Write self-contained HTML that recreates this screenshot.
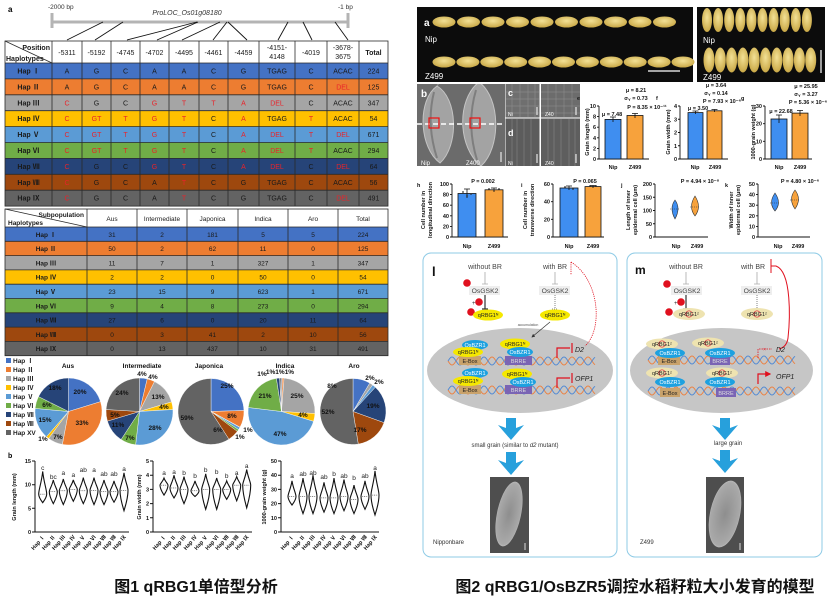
<!DOCTYPE html>
<html><head><meta charset="utf-8">
<style>
html,body{margin:0;padding:0;background:#fff;}
svg{display:block;font-family:"Liberation Sans","Noto Sans CJK SC",sans-serif;}
.t1 text{font-size:7px;text-anchor:middle;fill:#1a1a1a;}
.t1 .r{fill:#e8232a;}
.t1 .h{font-weight:bold;}
.t2 text{font-size:6.5px;text-anchor:middle;fill:#1a1a1a;}
.t2 .h{font-weight:bold;}
.pl text{font-size:6.5px;font-weight:bold;text-anchor:middle;fill:#111;}
.ax text{font-size:5.5px;font-weight:bold;fill:#111;}
.lt{font-size:6.5px;text-anchor:middle;fill:#222;}
.md text{font-family:"Liberation Sans",sans-serif;}
</style></head><body>
<svg width="833" height="596" viewBox="0 0 833 596" xmlns="http://www.w3.org/2000/svg">
<defs>
<radialGradient id="gr" cx="50%" cy="40%" r="60%"><stop offset="0" stop-color="#f3e196"/><stop offset="1" stop-color="#c9a846"/></radialGradient>
<radialGradient id="sem" cx="50%" cy="50%" r="55%"><stop offset="0" stop-color="#8e8e8e"/><stop offset="0.85" stop-color="#a9a9a9"/><stop offset="1" stop-color="#d0d0d0"/></radialGradient>
<clipPath id="cb"><rect x="417" y="84" width="88" height="82"/></clipPath>
<marker id="ah" markerWidth="5" markerHeight="5" refX="4" refY="2.5" orient="auto"><path d="M0,0 L5,2.5 L0,5Z" fill="#333"/></marker>
<marker id="ahr" markerWidth="5" markerHeight="5" refX="4" refY="2.5" orient="auto"><path d="M0,0 L5,2.5 L0,5Z" fill="#e0101e"/></marker>
</defs>

<!-- ===== FIGURE 1 ===== -->
<text x="8" y="12" font-size="8" font-weight="bold">a</text>
<text x="48" y="9" font-size="6.5" fill="#333">-2000 bp</text>
<text x="338" y="9" font-size="6.5" fill="#333">-1 bp</text>
<text x="187" y="15" font-size="7" font-style="italic" fill="#333" text-anchor="middle">ProLOC_Os01g08180</text>
<g stroke="#b4b4b4" stroke-width="3" fill="none">
<line x1="52" y1="22" x2="348" y2="22"/><line x1="52" y1="13" x2="52" y2="28"/><line x1="348" y1="13" x2="348" y2="28"/>
</g>
<g stroke="#111" stroke-width="0.9">
<line x1="103" y1="22" x2="67" y2="40"/><line x1="123" y1="22" x2="95" y2="40"/><line x1="197" y1="22" x2="127" y2="40"/>
<line x1="198" y1="22" x2="157" y2="40"/><line x1="220" y1="22" x2="182" y2="40"/><line x1="227" y1="22" x2="213" y2="40"/>
<line x1="228" y1="22" x2="247" y2="40"/><line x1="288" y1="22" x2="278" y2="40"/><line x1="303" y1="22" x2="312" y2="40"/>
<line x1="335" y1="22" x2="348" y2="40"/>
</g>

<!-- Table 1 -->
<g class="t1">
<rect x="5" y="41" width="383" height="22" fill="#fff"/>
<rect x="5" y="63" width="383" height="15.9" fill="#4472C4"/>
<rect x="5" y="78.9" width="383" height="15.9" fill="#ED7D31"/>
<rect x="5" y="94.8" width="383" height="15.9" fill="#A5A5A5"/>
<rect x="5" y="110.7" width="383" height="15.9" fill="#FFC000"/>
<rect x="5" y="126.6" width="383" height="15.9" fill="#5B9BD5"/>
<rect x="5" y="142.5" width="383" height="15.9" fill="#70AD47"/>
<rect x="5" y="158.4" width="383" height="15.9" fill="#264478"/>
<rect x="5" y="174.3" width="383" height="15.9" fill="#9E480E"/>
<rect x="5" y="190.2" width="383" height="15.9" fill="#636363"/>
<g stroke="#2a2a2a" stroke-width="0.8" fill="none">
<rect x="5" y="41" width="383" height="165.1"/>
<line x1="5" y1="63" x2="388" y2="63"/><line x1="5" y1="78.9" x2="388" y2="78.9"/><line x1="5" y1="94.8" x2="388" y2="94.8"/>
<line x1="5" y1="110.7" x2="388" y2="110.7"/><line x1="5" y1="126.6" x2="388" y2="126.6"/><line x1="5" y1="142.5" x2="388" y2="142.5"/>
<line x1="5" y1="158.4" x2="388" y2="158.4"/><line x1="5" y1="174.3" x2="388" y2="174.3"/><line x1="5" y1="190.2" x2="388" y2="190.2"/>
<line x1="52" y1="41" x2="52" y2="206"/><line x1="82" y1="41" x2="82" y2="206"/><line x1="111" y1="41" x2="111" y2="206"/>
<line x1="140" y1="41" x2="140" y2="206"/><line x1="169" y1="41" x2="169" y2="206"/><line x1="199" y1="41" x2="199" y2="206"/>
<line x1="228" y1="41" x2="228" y2="206"/><line x1="259" y1="41" x2="259" y2="206"/><line x1="295" y1="41" x2="295" y2="206"/>
<line x1="327" y1="41" x2="327" y2="206"/><line x1="359" y1="41" x2="359" y2="206"/>
<line x1="5" y1="41" x2="52" y2="63"/>
</g>
<text x="50" y="50" class="h" style="text-anchor:end">Position</text>
<text x="6" y="61" class="h" style="text-anchor:start">Haplotypes</text>
<text x="67" y="55">-5311</text><text x="96.5" y="55">-5192</text><text x="125.5" y="55">-4745</text><text x="154.5" y="55">-4702</text>
<text x="184" y="55">-4495</text><text x="213.5" y="55">-4461</text><text x="243.5" y="55">-4459</text>
<text x="277" y="50">-4151-</text><text x="277" y="59">4148</text><text x="311" y="55">-4019</text>
<text x="343" y="50">-3678-</text><text x="343" y="59">3675</text><text x="373.5" y="55" class="h">Total</text>

<g transform="translate(0,63)"><text x="28.5" y="10.5" class="h">Hap Ⅰ</text><text x="67" y="10.5">A</text><text x="96.5" y="10.5">G</text><text x="125.5" y="10.5">C</text><text x="154.5" y="10.5">A</text><text x="184" y="10.5">A</text><text x="213.5" y="10.5">C</text><text x="243.5" y="10.5">G</text><text x="277" y="10.5">TGAG</text><text x="311" y="10.5">C</text><text x="343" y="10.5">ACAC</text><text x="373.5" y="10.5">224</text></g>
<g transform="translate(0,78.9)"><text x="28.5" y="10.5" class="h">Hap Ⅱ</text><text x="67" y="10.5">A</text><text x="96.5" y="10.5">G</text><text x="125.5" y="10.5">C</text><text x="154.5" y="10.5">A</text><text x="184" y="10.5">A</text><text x="213.5" y="10.5">C</text><text x="243.5" y="10.5">G</text><text x="277" y="10.5">TGAG</text><text x="311" y="10.5">C</text><text x="343" y="10.5" class="r">DEL</text><text x="373.5" y="10.5">125</text></g>
<g transform="translate(0,94.8)"><text x="28.5" y="10.5" class="h">Hap Ⅲ</text><text x="67" y="10.5" class="r">C</text><text x="96.5" y="10.5">G</text><text x="125.5" y="10.5">C</text><text x="154.5" y="10.5" class="r">G</text><text x="184" y="10.5" class="r">T</text><text x="213.5" y="10.5" class="r">T</text><text x="243.5" y="10.5" class="r">A</text><text x="277" y="10.5" class="r">DEL</text><text x="311" y="10.5">C</text><text x="343" y="10.5">ACAC</text><text x="373.5" y="10.5">347</text></g>
<g transform="translate(0,110.7)"><text x="28.5" y="10.5" class="h">Hap Ⅳ</text><text x="67" y="10.5" class="r">C</text><text x="96.5" y="10.5" class="r">GT</text><text x="125.5" y="10.5" class="r">T</text><text x="154.5" y="10.5" class="r">G</text><text x="184" y="10.5" class="r">T</text><text x="213.5" y="10.5">C</text><text x="243.5" y="10.5" class="r">A</text><text x="277" y="10.5">TGAG</text><text x="311" y="10.5" class="r">T</text><text x="343" y="10.5">ACAC</text><text x="373.5" y="10.5">54</text></g>
<g transform="translate(0,126.6)"><text x="28.5" y="10.5" class="h">Hap Ⅴ</text><text x="67" y="10.5" class="r">C</text><text x="96.5" y="10.5" class="r">GT</text><text x="125.5" y="10.5" class="r">T</text><text x="154.5" y="10.5" class="r">G</text><text x="184" y="10.5" class="r">T</text><text x="213.5" y="10.5">C</text><text x="243.5" y="10.5" class="r">A</text><text x="277" y="10.5" class="r">DEL</text><text x="311" y="10.5" class="r">T</text><text x="343" y="10.5" class="r">DEL</text><text x="373.5" y="10.5">671</text></g>
<g transform="translate(0,142.5)"><text x="28.5" y="10.5" class="h">Hap Ⅵ</text><text x="67" y="10.5" class="r">C</text><text x="96.5" y="10.5" class="r">GT</text><text x="125.5" y="10.5" class="r">T</text><text x="154.5" y="10.5" class="r">G</text><text x="184" y="10.5" class="r">T</text><text x="213.5" y="10.5">C</text><text x="243.5" y="10.5" class="r">A</text><text x="277" y="10.5" class="r">DEL</text><text x="311" y="10.5" class="r">T</text><text x="343" y="10.5">ACAC</text><text x="373.5" y="10.5">294</text></g>
<g transform="translate(0,158.4)"><text x="28.5" y="10.5" class="h">Hap Ⅶ</text><text x="67" y="10.5" class="r">C</text><text x="96.5" y="10.5">G</text><text x="125.5" y="10.5">C</text><text x="154.5" y="10.5" class="r">G</text><text x="184" y="10.5" class="r">T</text><text x="213.5" y="10.5">C</text><text x="243.5" y="10.5" class="r">A</text><text x="277" y="10.5" class="r">DEL</text><text x="311" y="10.5">C</text><text x="343" y="10.5" class="r">DEL</text><text x="373.5" y="10.5">64</text></g>
<g transform="translate(0,174.3)"><text x="28.5" y="10.5" class="h">Hap Ⅷ</text><text x="67" y="10.5" class="r">C</text><text x="96.5" y="10.5">G</text><text x="125.5" y="10.5">C</text><text x="154.5" y="10.5">A</text><text x="184" y="10.5" class="r">T</text><text x="213.5" y="10.5">C</text><text x="243.5" y="10.5">G</text><text x="277" y="10.5">TGAG</text><text x="311" y="10.5">C</text><text x="343" y="10.5">ACAC</text><text x="373.5" y="10.5">56</text></g>
<g transform="translate(0,190.2)"><text x="28.5" y="10.5" class="h">Hap Ⅸ</text><text x="67" y="10.5" class="r">C</text><text x="96.5" y="10.5">G</text><text x="125.5" y="10.5">C</text><text x="154.5" y="10.5">A</text><text x="184" y="10.5" class="r">T</text><text x="213.5" y="10.5">C</text><text x="243.5" y="10.5">G</text><text x="277" y="10.5">TGAG</text><text x="311" y="10.5">C</text><text x="343" y="10.5" class="r">DEL</text><text x="373.5" y="10.5">491</text></g>
</g>

<!-- Table 2 -->
<g class="t2">
<rect x="5" y="209" width="383" height="18" fill="#fff"/>
<rect x="5" y="227" width="383" height="14.3" fill="#4472C4"/>
<rect x="5" y="241.3" width="383" height="14.3" fill="#ED7D31"/>
<rect x="5" y="255.6" width="383" height="14.3" fill="#A5A5A5"/>
<rect x="5" y="269.9" width="383" height="14.3" fill="#FFC000"/>
<rect x="5" y="284.2" width="383" height="14.3" fill="#5B9BD5"/>
<rect x="5" y="298.5" width="383" height="14.3" fill="#70AD47"/>
<rect x="5" y="312.8" width="383" height="14.3" fill="#264478"/>
<rect x="5" y="327.1" width="383" height="14.3" fill="#9E480E"/>
<rect x="5" y="341.4" width="383" height="14.3" fill="#636363"/>
<g stroke="#2a2a2a" stroke-width="0.8" fill="none">
<rect x="5" y="209" width="383" height="146.7"/>
<line x1="5" y1="227" x2="388" y2="227"/><line x1="5" y1="241.3" x2="388" y2="241.3"/><line x1="5" y1="255.6" x2="388" y2="255.6"/>
<line x1="5" y1="269.9" x2="388" y2="269.9"/><line x1="5" y1="284.2" x2="388" y2="284.2"/><line x1="5" y1="298.5" x2="388" y2="298.5"/>
<line x1="5" y1="312.8" x2="388" y2="312.8"/><line x1="5" y1="327.1" x2="388" y2="327.1"/><line x1="5" y1="341.4" x2="388" y2="341.4"/>
<line x1="87" y1="209" x2="87" y2="356"/><line x1="137" y1="209" x2="137" y2="356"/><line x1="187" y1="209" x2="187" y2="356"/>
<line x1="238" y1="209" x2="238" y2="356"/><line x1="288" y1="209" x2="288" y2="356"/><line x1="338" y1="209" x2="338" y2="356"/>
<line x1="5" y1="209" x2="87" y2="227"/>
</g>
<text x="84" y="217" class="h" style="text-anchor:end">Subpopulation</text>
<text x="8" y="225" class="h" style="text-anchor:start">Haplotypes</text>
<text x="112" y="221">Aus</text><text x="162" y="221">Intermediate</text><text x="212.5" y="221">Japonica</text><text x="263" y="221">Indica</text><text x="313" y="221">Aro</text><text x="363" y="221">Total</text>
<g transform="translate(0,227)"><text x="46" y="9.8" class="h">Hap Ⅰ</text><text x="112" y="9.8">31</text><text x="162" y="9.8">2</text><text x="212.5" y="9.8">181</text><text x="263" y="9.8">5</text><text x="313" y="9.8">5</text><text x="363" y="9.8">224</text></g>
<g transform="translate(0,241.3)"><text x="46" y="9.8" class="h">Hap Ⅱ</text><text x="112" y="9.8">50</text><text x="162" y="9.8">2</text><text x="212.5" y="9.8">62</text><text x="263" y="9.8">11</text><text x="313" y="9.8">0</text><text x="363" y="9.8">125</text></g>
<g transform="translate(0,255.6)"><text x="46" y="9.8" class="h">Hap Ⅲ</text><text x="112" y="9.8">11</text><text x="162" y="9.8">7</text><text x="212.5" y="9.8">1</text><text x="263" y="9.8">327</text><text x="313" y="9.8">1</text><text x="363" y="9.8">347</text></g>
<g transform="translate(0,269.9)"><text x="46" y="9.8" class="h">Hap Ⅳ</text><text x="112" y="9.8">2</text><text x="162" y="9.8">2</text><text x="212.5" y="9.8">0</text><text x="263" y="9.8">50</text><text x="313" y="9.8">0</text><text x="363" y="9.8">54</text></g>
<g transform="translate(0,284.2)"><text x="46" y="9.8" class="h">Hap Ⅴ</text><text x="112" y="9.8">23</text><text x="162" y="9.8">15</text><text x="212.5" y="9.8">9</text><text x="263" y="9.8">623</text><text x="313" y="9.8">1</text><text x="363" y="9.8">671</text></g>
<g transform="translate(0,298.5)"><text x="46" y="9.8" class="h">Hap Ⅵ</text><text x="112" y="9.8">9</text><text x="162" y="9.8">4</text><text x="212.5" y="9.8">8</text><text x="263" y="9.8">273</text><text x="313" y="9.8">0</text><text x="363" y="9.8">294</text></g>
<g transform="translate(0,312.8)"><text x="46" y="9.8" class="h">Hap Ⅶ</text><text x="112" y="9.8">27</text><text x="162" y="9.8">6</text><text x="212.5" y="9.8">0</text><text x="263" y="9.8">20</text><text x="313" y="9.8">11</text><text x="363" y="9.8">64</text></g>
<g transform="translate(0,327.1)"><text x="46" y="9.8" class="h">Hap Ⅷ</text><text x="112" y="9.8">0</text><text x="162" y="9.8">3</text><text x="212.5" y="9.8">41</text><text x="263" y="9.8">2</text><text x="313" y="9.8">10</text><text x="363" y="9.8">56</text></g>
<g transform="translate(0,341.4)"><text x="46" y="9.8" class="h">Hap Ⅸ</text><text x="112" y="9.8">0</text><text x="162" y="9.8">13</text><text x="212.5" y="9.8">437</text><text x="263" y="9.8">10</text><text x="313" y="9.8">31</text><text x="363" y="9.8">491</text></g>
</g>

<!-- Pie legend -->
<g font-size="6.5" font-weight="bold" fill="#222">
<rect x="6" y="358" width="5" height="5" fill="#4472C4"/><text x="13" y="363">Hap Ⅰ</text>
<rect x="6" y="367" width="5" height="5" fill="#ED7D31"/><text x="13" y="372">Hap Ⅱ</text>
<rect x="6" y="376" width="5" height="5" fill="#A5A5A5"/><text x="13" y="381">Hap Ⅲ</text>
<rect x="6" y="385" width="5" height="5" fill="#FFC000"/><text x="13" y="390">Hap Ⅳ</text>
<rect x="6" y="394" width="5" height="5" fill="#5B9BD5"/><text x="13" y="399">Hap Ⅴ</text>
<rect x="6" y="403" width="5" height="5" fill="#70AD47"/><text x="13" y="408">Hap Ⅵ</text>
<rect x="6" y="412" width="5" height="5" fill="#264478"/><text x="13" y="417">Hap Ⅶ</text>
<rect x="6" y="421" width="5" height="5" fill="#9E480E"/><text x="13" y="426">Hap Ⅷ</text>
<rect x="6" y="430" width="5" height="5" fill="#636363"/><text x="13" y="435">Hap XV</text>
</g>
<g id="pies"></g>
<g class="pl">
<text x="68" y="368" font-size="7">Aus</text><text x="142" y="368" font-size="7">Intermediate</text><text x="209" y="368" font-size="7">Japonica</text><text x="285" y="368" font-size="7">Indica</text><text x="354" y="368" font-size="7">Aro</text>
<text x="80" y="394">20%</text><text x="82" y="425">33%</text><text x="58" y="439">7%</text><text x="43" y="441">1%</text><text x="45" y="422">15%</text><text x="47" y="407">6%</text><text x="55" y="390">18%</text>
<text x="142" y="376">4%</text><text x="153" y="379">4%</text><text x="158" y="399">13%</text><text x="164" y="409">4%</text><text x="155" y="430">28%</text><text x="130" y="440">7%</text><text x="118" y="427">11%</text><text x="115" y="417">5%</text><text x="122" y="395">24%</text>
<text x="227" y="388">25%</text><text x="232" y="418">8%</text><text x="248" y="432">1%</text><text x="240" y="439">1%</text><text x="218" y="432">6%</text><text x="187" y="420">59%</text>
<text x="262" y="376">1%</text><text x="280" y="374">1%1%1%</text><text x="297" y="398">25%</text><text x="303" y="417">4%</text><text x="280" y="436">47%</text><text x="265" y="398">21%</text>
<text x="332" y="388">8%</text><text x="370" y="380">2%</text><text x="379" y="384">2%</text><text x="373" y="408">19%</text><text x="360" y="432">17%</text><text x="328" y="414">52%</text>
</g>

<!-- Violin plots -->
<text x="8" y="458" font-size="7" font-weight="bold">b</text>
<g class="ax" stroke="none">
<g stroke="#111" stroke-width="1" fill="none">
<path d="M35,461 V532 H129"/><path d="M32,461H35M32,484.7H35M32,508.3H35M32,532H35"/>
<path d="M153,461 V532 H252"/><path d="M150,461H153M150,475.2H153M150,489.4H153M150,503.6H153M150,517.8H153M150,532H153"/>
<path d="M281,461 V532 H379"/><path d="M278,461H281M278,475.2H281M278,489.4H281M278,503.6H281M278,517.8H281M278,532H281"/>
</g>
<g text-anchor="end">
<text x="31" y="463">15</text><text x="31" y="486.7">10</text><text x="31" y="510.3">5</text><text x="31" y="534">0</text>
<text x="149" y="463">5</text><text x="149" y="477.2">4</text><text x="149" y="491.4">3</text><text x="149" y="505.6">2</text><text x="149" y="519.8">1</text><text x="149" y="534">0</text>
<text x="277" y="463">50</text><text x="277" y="477.2">40</text><text x="277" y="491.4">30</text><text x="277" y="505.6">20</text><text x="277" y="519.8">10</text><text x="277" y="534">0</text>
</g>
<text transform="translate(16,497) rotate(-90)" text-anchor="middle" font-size="6">Grain length (mm)</text>
<text transform="translate(141,497) rotate(-90)" text-anchor="middle" font-size="6">Grain width (mm)</text>
<text transform="translate(266,497) rotate(-90)" text-anchor="middle" font-size="6">1000-grain weight (g)</text>
</g>
<g id="vio"></g>
<g class="lt">
<text x="42.7" y="470">c</text><text x="53.3" y="479">bc</text><text x="63.3" y="475">a</text><text x="73.3" y="477">a</text><text x="83.3" y="472">ab</text><text x="94" y="472">a</text><text x="104" y="476">ab</text><text x="114" y="476">ab</text><text x="124" y="471">a</text>
<text x="164" y="475">a</text><text x="174" y="474">a</text><text x="184" y="475">b</text><text x="195" y="478">b</text><text x="205.7" y="472">b</text><text x="216.7" y="474">b</text><text x="226.7" y="478">b</text><text x="236.7" y="475">a</text><text x="246.7" y="468">a</text>
<text x="292" y="478">a</text><text x="303" y="476">ab</text><text x="313" y="475">ab</text><text x="324" y="479">ab</text><text x="334" y="476">b</text><text x="344" y="478">ab</text><text x="354" y="480">b</text><text x="365" y="478">ab</text><text x="375" y="470">a</text>
</g>
<g font-size="5.5" font-weight="bold" fill="#111" text-anchor="end">
<text transform="translate(45,537) rotate(-50)">Hap Ⅰ</text><text transform="translate(55.6,537) rotate(-50)">Hap Ⅱ</text><text transform="translate(65.6,537) rotate(-50)">Hap Ⅲ</text><text transform="translate(75.6,537) rotate(-50)">Hap Ⅳ</text><text transform="translate(85.6,537) rotate(-50)">Hap Ⅴ</text><text transform="translate(96.3,537) rotate(-50)">Hap Ⅵ</text><text transform="translate(106.3,537) rotate(-50)">Hap Ⅶ</text><text transform="translate(116.3,537) rotate(-50)">Hap Ⅷ</text><text transform="translate(126.3,537) rotate(-50)">Hap Ⅸ</text>
<text transform="translate(166.3,537) rotate(-50)">Hap Ⅰ</text><text transform="translate(176.3,537) rotate(-50)">Hap Ⅱ</text><text transform="translate(186.3,537) rotate(-50)">Hap Ⅲ</text><text transform="translate(197.3,537) rotate(-50)">Hap Ⅳ</text><text transform="translate(208,537) rotate(-50)">Hap Ⅴ</text><text transform="translate(219,537) rotate(-50)">Hap Ⅵ</text><text transform="translate(229,537) rotate(-50)">Hap Ⅶ</text><text transform="translate(239,537) rotate(-50)">Hap Ⅷ</text><text transform="translate(249,537) rotate(-50)">Hap Ⅸ</text>
<text transform="translate(294.3,537) rotate(-50)">Hap Ⅰ</text><text transform="translate(305.3,537) rotate(-50)">Hap Ⅱ</text><text transform="translate(315.3,537) rotate(-50)">Hap Ⅲ</text><text transform="translate(326.3,537) rotate(-50)">Hap Ⅳ</text><text transform="translate(336.3,537) rotate(-50)">Hap Ⅴ</text><text transform="translate(346.3,537) rotate(-50)">Hap Ⅵ</text><text transform="translate(356.3,537) rotate(-50)">Hap Ⅶ</text><text transform="translate(367.3,537) rotate(-50)">Hap Ⅷ</text><text transform="translate(377.3,537) rotate(-50)">Hap Ⅸ</text>
</g>

<text x="196" y="592" font-size="16" font-weight="bold" text-anchor="middle" fill="#111">图1 qRBG1单倍型分析</text>

<!-- ===== FIGURE 2 ===== -->
<rect x="417" y="7" width="276" height="75" fill="#0c0c0c"/>
<rect x="697" y="7" width="128" height="75" fill="#0c0c0c"/>
<g id="grains"></g>
<g fill="#fff" font-size="8">
<text x="424" y="26" font-weight="bold" font-size="10">a</text>
<text x="425" y="42">Nip</text><text x="425" y="79">Z499</text>
<text x="703" y="43">Nip</text><text x="703" y="80">Z499</text>
</g>
<line x1="648" y1="71" x2="680" y2="71" stroke="#fff" stroke-width="1.2"/>
<line x1="821" y1="50" x2="821" y2="73" stroke="#fff" stroke-width="1.2"/>

<!-- b c d -->
<rect x="417" y="84" width="88" height="82" fill="#6b6b6b"/>
<g clip-path="url(#cb)">
<path d="M437,86 C458,98 459,146 440,163 C419,148 417,100 437,86Z" fill="#a3a3a3" stroke="#c4c4c4" stroke-width="1"/>
<path d="M479,82 C501,98 501,148 481,166 C458,148 456,100 479,82Z" fill="#a3a3a3" stroke="#c4c4c4" stroke-width="1"/>
<path d="M434,92 Q426,124 437,158" stroke="#7e7e7e" stroke-width="2" fill="none"/>
<path d="M476,90 Q466,124 477,160" stroke="#7e7e7e" stroke-width="2" fill="none"/>
<path d="M437,86 L441,80 M479,82 L483,76" stroke="#999" stroke-width="1"/>
</g>
<line x1="417" y1="124" x2="505" y2="124" stroke="#fff" stroke-width="1.6" stroke-dasharray="5,3"/>
<rect x="429" y="118" width="10" height="10" fill="none" stroke="#f01010" stroke-width="1.2"/>
<rect x="470" y="118" width="10" height="10" fill="none" stroke="#f01010" stroke-width="1.2"/>
<rect x="505.5" y="84" width="34" height="33.5" fill="#6f6f6f"/>
<rect x="541" y="84" width="39" height="33.5" fill="#6c6c6c"/>
<rect x="505.5" y="118.5" width="34" height="47.5" fill="#5c5c5c"/>
<rect x="541" y="118.5" width="39" height="47.5" fill="#5e5e5e"/>
<g stroke="#9a9a9a" stroke-width="0.5" opacity="0.8">
<path d="M506,92H539M506,99H539M506,106H539M506,113H539M541,92H580M541,99H580M541,106H580M541,113H580"/>
<path d="M512,84V117M520,84V117M528,84V117M535,84V117M548,84V117M556,84V117M564,84V117M572,84V117"/>
<path d="M512,119V166M517,119V166M524,119V166M531,119V166M548,119V166M554,119V166M561,119V166M569,119V166M575,119V166"/>
</g>
<g fill="#fff">
<text x="421" y="97" font-size="10" font-weight="bold">b</text>
<text x="421" y="165" font-size="6">Nip</text><text x="466" y="165" font-size="6">Z400</text>
<text x="508" y="96" font-size="9" font-weight="bold">c</text><text x="508" y="136" font-size="9" font-weight="bold">d</text>
<text x="508" y="116" font-size="5">Ni</text><text x="545" y="116" font-size="5">Z40</text>
<text x="508" y="165" font-size="5">Ni</text><text x="545" y="165" font-size="5">Z40</text>
</g>
<g stroke="#fff" stroke-width="1"><path d="M501,152V162M537,107V115M576,107V115M537,154V163M576,154V163"/></g>

<!-- e f g -->
<g class="ax">
<text x="577" y="100" font-size="11" font-weight="normal">e</text>
<text x="656" y="100" font-size="11" font-weight="normal">f</text>
<text x="741" y="100" font-size="11" font-weight="normal">g</text>
<g stroke="#111" stroke-width="0.9" fill="none">
<path d="M599,106V159H649"/><path d="M597,106H599M597,116.6H599M597,127.2H599M597,137.8H599M597,148.4H599M597,159H599"/>
<path d="M680,106V159H728"/><path d="M678,106H680M678,119.25H680M678,132.5H680M678,145.75H680M678,159H680"/>
<path d="M765,106V159H812"/><path d="M763,106H765M763,123.7H765M763,141.3H765M763,159H765"/>
</g>
<rect x="605" y="119.4" width="16" height="39.6" fill="#3f8ef0" stroke="#111" stroke-width="0.8"/>
<rect x="627" y="115.5" width="16" height="43.5" fill="#f7a23c" stroke="#111" stroke-width="0.8"/>
<rect x="688" y="112.6" width="15" height="46.4" fill="#3f8ef0" stroke="#111" stroke-width="0.8"/>
<rect x="707" y="110.8" width="15" height="48.2" fill="#f7a23c" stroke="#111" stroke-width="0.8"/>
<rect x="771" y="119" width="16" height="40" fill="#3f8ef0" stroke="#111" stroke-width="0.8"/>
<rect x="792" y="113.1" width="16" height="45.9" fill="#f7a23c" stroke="#111" stroke-width="0.8"/>
<g stroke="#111" stroke-width="0.8"><path d="M613,117V122M610,117H616M635,113.5V118M632,113.5H638M695.5,111V114M692.5,111H698.5M714.5,109.5V112M711.5,109.5H717.5M779,115V123M776,115H782M800,110.5V116M797,110.5H803"/></g>
<g fill="#222" text-anchor="end">
<text x="596" y="108">10</text><text x="596" y="118.6">8</text><text x="596" y="129.2">6</text><text x="596" y="139.8">4</text><text x="596" y="150.4">2</text><text x="596" y="161">0</text>
<text x="677" y="108">4</text><text x="677" y="121.25">3</text><text x="677" y="134.5">2</text><text x="677" y="147.75">1</text><text x="677" y="161">0</text>
<text x="762" y="108">30</text><text x="762" y="125.7">20</text><text x="762" y="143.3">10</text><text x="762" y="161">0</text>
</g>
<g text-anchor="middle" font-size="6">
<text x="613" y="169">Nip</text><text x="635" y="169">Z499</text>
<text x="695" y="169">Nip</text><text x="715" y="169">Z499</text>
<text x="779" y="169">Nip</text><text x="800" y="169">Z499</text>
</g>
<g text-anchor="middle" font-size="5.5" font-weight="normal">
<text transform="translate(589,132) rotate(-90)">Grain length (mm)</text>
<text transform="translate(670,132) rotate(-90)">Grain width (mm)</text>
<text transform="translate(755,132) rotate(-90)">1000-grain weight (g)</text>
</g>
<g text-anchor="middle" font-size="5.5">
<text x="636" y="92">μ = 8.21</text><text x="636" y="100">σ<tspan font-size="4" dy="1">Y</tspan><tspan dy="-1"> = 0.73</tspan></text><text x="647" y="109">P = 8.35 × 10⁻¹¹</text><text x="612" y="116">μ = 7.48</text>
<text x="716" y="87">μ = 3.64</text><text x="716" y="95">σ<tspan font-size="4" dy="1">Y</tspan><tspan dy="-1"> = 0.14</tspan></text><text x="722" y="103">P = 7.93 × 10⁻⁶</text><text x="698" y="110">μ = 3.50</text>
<text x="806" y="88">μ = 25.95</text><text x="806" y="96">σ<tspan font-size="4" dy="1">Y</tspan><tspan dy="-1"> = 3.27</tspan></text><text x="808" y="104">P = 5.36 × 10⁻⁶</text><text x="781" y="113">μ = 22.68</text>
</g>
</g>

<!-- h i j k -->
<g class="ax">
<text x="417" y="187" font-size="11" font-weight="normal">h</text>
<text x="521" y="187" font-size="11" font-weight="normal">i</text>
<text x="621" y="187" font-size="11" font-weight="normal">j</text>
<text x="725" y="187" font-size="11" font-weight="normal">k</text>
<g stroke="#111" stroke-width="0.9" fill="none">
<path d="M452,184V237H508"/><path d="M450,184H452M450,194.6H452M450,205.2H452M450,215.8H452M450,226.4H452M450,237H452"/>
<path d="M553,184V237H604"/><path d="M551,184H553M551,201.7H553M551,219.3H553M551,237H553"/>
<path d="M655,184V237H708"/><path d="M653,184H655M653,197.25H655M653,210.5H655M653,223.75H655M653,237H655"/>
<path d="M758,184V237H810"/><path d="M756,184H758M756,194.6H758M756,205.2H758M756,215.8H758M756,226.4H758M756,237H758"/>
</g>
<rect x="458" y="193.5" width="18" height="43.5" fill="#3f8ef0" stroke="#111" stroke-width="0.8"/>
<rect x="485" y="189.8" width="18" height="47.2" fill="#f7a23c" stroke="#111" stroke-width="0.8"/>
<rect x="560" y="188" width="18" height="49" fill="#3f8ef0" stroke="#111" stroke-width="0.8"/>
<rect x="585" y="186.6" width="16" height="50.4" fill="#f7a23c" stroke="#111" stroke-width="0.8"/>
<g stroke="#111" stroke-width="0.8"><path d="M467,189V198M464,189H470M494,188V192M491,188H497M569,186V190M566,186H572M593,185.5V188M590,185.5H596"/></g>
<g fill="#333"><circle cx="463" cy="192" r="0.9"/><circle cx="467" cy="196" r="0.9"/><circle cx="471" cy="194" r="0.9"/><circle cx="489" cy="189" r="0.9"/><circle cx="494" cy="190" r="0.9"/><circle cx="499" cy="189" r="0.9"/><circle cx="565" cy="187" r="0.9"/><circle cx="573" cy="189" r="0.9"/><circle cx="590" cy="186" r="0.9"/><circle cx="596" cy="186" r="0.9"/></g>
<path d="M675,200 Q681,208 675,219 Q669,208 675,200Z" fill="#3f8ef0" stroke="#333" stroke-width="0.6"/>
<path d="M695,196 Q702,207 695,216 Q688,207 695,196Z" fill="#f7a23c" stroke="#333" stroke-width="0.6"/>
<path d="M775,193 Q782,203 775,211 Q768,203 775,193Z" fill="#3f8ef0" stroke="#333" stroke-width="0.6"/>
<path d="M795,190 Q802,199 795,209 Q788,199 795,190Z" fill="#f7a23c" stroke="#333" stroke-width="0.6"/>
<g stroke="#333" stroke-width="0.5" stroke-dasharray="1,1"><path d="M670,209H680M690,207H700M770,203H780M790,200H800"/></g>
<g fill="#222" text-anchor="end">
<text x="449" y="186">100</text><text x="449" y="196.6">80</text><text x="449" y="207.2">60</text><text x="449" y="217.8">40</text><text x="449" y="228.4">20</text><text x="449" y="239">0</text>
<text x="550" y="186">60</text><text x="550" y="203.7">40</text><text x="550" y="221.3">20</text><text x="550" y="239">0</text>
<text x="652" y="186">200</text><text x="652" y="199.25">150</text><text x="652" y="212.5">100</text><text x="652" y="225.75">50</text><text x="652" y="239">0</text>
<text x="755" y="186">50</text><text x="755" y="196.6">40</text><text x="755" y="207.2">30</text><text x="755" y="217.8">20</text><text x="755" y="228.4">10</text><text x="755" y="239">0</text>
</g>
<g text-anchor="middle" font-size="6">
<text x="467" y="248">Nip</text><text x="494" y="248">Z499</text>
<text x="569" y="248">Nip</text><text x="593" y="248">Z499</text>
<text x="676" y="248">Nip</text><text x="697" y="248">Z499</text>
<text x="778" y="248">Nip</text><text x="798" y="248">Z499</text>
</g>
<g text-anchor="middle" font-size="5.5" font-weight="normal">
<text transform="translate(425,210) rotate(-90)">Cell number in</text><text transform="translate(432,210) rotate(-90)">longitudinal direction</text>
<text transform="translate(527,210) rotate(-90)">Cell number in</text><text transform="translate(534,210) rotate(-90)">transverse direction</text>
<text transform="translate(630,210) rotate(-90)">Length of inner</text><text transform="translate(637,210) rotate(-90)">epidermal cell (μm)</text>
<text transform="translate(733,210) rotate(-90)">Width of inner</text><text transform="translate(740,210) rotate(-90)">epidermal cell (μm)</text>
</g>
<g text-anchor="middle" font-size="6">
<text x="483" y="183">P = 0.002</text><text x="585" y="183">P = 0.065</text><text x="700" y="183">P = 4.94 × 10⁻⁸</text><text x="800" y="183">P = 4.80 × 10⁻⁶</text>
</g>
</g>

<!-- Model panels -->
<g class="md">
<rect x="423" y="253" width="194" height="304" rx="8" fill="#fff" stroke="#8fcbe6" stroke-width="1"/>
<rect x="627" y="253" width="195" height="304" rx="8" fill="#fff" stroke="#8fcbe6" stroke-width="1"/>
<ellipse cx="520" cy="370.5" rx="93" ry="42.5" fill="#c6c6c6"/>
<ellipse cx="721.5" cy="370.5" rx="91.5" ry="42.5" fill="#c6c6c6"/>
<g id="hx"></g>
<text x="432" y="276" font-size="13" font-weight="bold" fill="#111">l</text>
<text x="635" y="274" font-size="12" font-weight="bold" fill="#111">m</text>
<g font-size="7" fill="#444" text-anchor="middle">
<text x="485" y="269">without BR</text><text x="555" y="269">with BR</text>
<text x="686" y="269">without BR</text><text x="753" y="269">with BR</text>
</g>
<g stroke="#aaa" stroke-width="0.8" fill="none">
<path d="M485,272V284M482,284H488M555,272V284M552,284H558M686,272V284M683,284H689M757,272V284M754,284H760"/>
</g>
<g stroke="#666" stroke-width="0.8" fill="none">
<path d="M485,295V309M482,309H488" stroke="#333" stroke-width="1.2"/><path d="M555,295V309M552,309H558" stroke-dasharray="1,1"/>
<path d="M686,295V309M683,309H689" stroke="#333" stroke-width="1.2"/><path d="M757,295V309M754,309H760" stroke-dasharray="1,1"/>
</g>
<g font-size="6.8" fill="#444" text-anchor="middle">
<rect x="469" y="286" width="31" height="9" fill="#eee"/><text x="485" y="293">OsGSK2</text>
<rect x="539" y="286" width="31" height="9" fill="#eee"/><text x="555" y="293">OsGSK2</text>
<rect x="671" y="286" width="31" height="9" fill="#eee"/><text x="687" y="293">OsGSK2</text>
<rect x="741" y="286" width="31" height="9" fill="#eee"/><text x="757" y="293">OsGSK2</text>
</g>
<g fill="#e0101e"><circle cx="467" cy="283" r="3.8"/><circle cx="479" cy="302" r="3.8"/><circle cx="471" cy="312" r="3.8"/>
<circle cx="667" cy="284" r="3.8"/><circle cx="681" cy="302" r="3.8"/><circle cx="669" cy="312" r="3.8"/></g>
<text x="472" y="305" font-size="6" fill="#333">+</text><text x="674" y="305" font-size="6" fill="#333">+</text>
<ellipse cx="488" cy="315" rx="15" ry="5.5" fill="#f5e800"/><ellipse cx="555" cy="315" rx="15" ry="5.5" fill="#f5e800"/>
<ellipse cx="689" cy="314" rx="16" ry="6" fill="#eee3b0"/><ellipse cx="757" cy="314" rx="16" ry="6" fill="#eee3b0"/>
<text x="528" y="326" font-size="3.5" fill="#555" text-anchor="middle">accumulation</text>
<line x1="550" y1="322" x2="532" y2="337" stroke="#333" stroke-width="0.7" marker-end="url(#ah)"/>
<path d="M571,262V275 M571,262 C600,280 603,330 585,346" stroke="#e0101e" stroke-width="0.8" fill="none" stroke-dasharray="1.2,1"/>
<path d="M771,259V273 M771,266 H776 C792,272 790,320 788,338 C787,345 783,348 779,349" stroke="#e0101e" stroke-width="1" fill="none"/>
<!-- nucleus l -->
<rect x="459" y="356" width="22" height="9" fill="#c9a26b"/><rect x="505" y="356" width="27" height="9" fill="#7a64b4"/>
<rect x="459" y="385" width="22" height="9" fill="#c9a26b"/><rect x="505" y="385" width="27" height="9" fill="#7a64b4"/>
<ellipse cx="475" cy="345" rx="13" ry="5" fill="#1da1e0"/><ellipse cx="515" cy="344" rx="15" ry="5.5" fill="#f5e800"/>
<ellipse cx="468" cy="352" rx="15" ry="5" fill="#f5e800"/><ellipse cx="520" cy="352" rx="13" ry="5" fill="#1da1e0"/>
<ellipse cx="475" cy="373" rx="13" ry="5" fill="#1da1e0"/><ellipse cx="517" cy="374" rx="15" ry="5.5" fill="#f5e800"/>
<ellipse cx="468" cy="381" rx="15" ry="5" fill="#f5e800"/><ellipse cx="523" cy="382" rx="13" ry="5" fill="#1da1e0"/>
<!-- nucleus m -->
<rect x="658" y="357" width="22" height="8" fill="#c9a26b"/><rect x="710" y="357" width="20" height="8" fill="#7a64b4"/>
<rect x="660" y="388" width="20" height="9" fill="#c9a26b"/><rect x="716" y="388" width="20" height="9" fill="#7a64b4"/>
<ellipse cx="662" cy="344" rx="16" ry="5.5" fill="#eee3b0"/><ellipse cx="708" cy="343" rx="16" ry="5.5" fill="#eee3b0"/>
<ellipse cx="670" cy="353" rx="15" ry="5" fill="#1da1e0"/><ellipse cx="720" cy="353" rx="15" ry="5" fill="#1da1e0"/>
<ellipse cx="662" cy="373" rx="16" ry="5.5" fill="#eee3b0"/><ellipse cx="722" cy="373" rx="16" ry="5.5" fill="#eee3b0"/>
<ellipse cx="670" cy="382" rx="15" ry="5" fill="#1da1e0"/><ellipse cx="720" cy="382" rx="15" ry="5" fill="#1da1e0"/>
<g fill="none" stroke="#d23" stroke-width="0.6"><circle cx="689" cy="314" r="3.2"/><circle cx="757" cy="314" r="3.2"/><circle cx="662" cy="344" r="3.2"/><circle cx="708" cy="343" r="3.2"/><circle cx="662" cy="373" r="3.2"/><circle cx="722" cy="373" r="3.2"/></g>
<g font-size="5.5" text-anchor="middle">
<g fill="#fff"><text x="475" y="347">OsBZR1</text><text x="520" y="354">OsBZR1</text><text x="475" y="375">OsBZR1</text><text x="523" y="384">OsBZR1</text>
<text x="670" y="355">OsBZR1</text><text x="720" y="355">OsBZR1</text><text x="670" y="384">OsBZR1</text><text x="720" y="384">OsBZR1</text></g>
<g fill="#222"><text x="488" y="317">qRBG1ᴺ</text><text x="555" y="317">qRBG1ᴺ</text><text x="515" y="346">qRBG1ᴺ</text><text x="468" y="354">qRBG1ᴺ</text><text x="517" y="376">qRBG1ᴺ</text><text x="468" y="383">qRBG1ᴺ</text>
<text x="689" y="316">qRBG1ᶻ</text><text x="757" y="316">qRBG1ᶻ</text><text x="662" y="346">qRBG1ᶻ</text><text x="708" y="345">qRBG1ᶻ</text><text x="662" y="375">qRBG1ᶻ</text><text x="722" y="375">qRBG1ᶻ</text>
<text x="470" y="363">E-Box</text><text x="518.5" y="363" fill="#ddd">BRRE</text><text x="470" y="392">E-Box</text><text x="518.5" y="392" fill="#ddd">BRRE</text>
<text x="669" y="363">E-Box</text><text x="720" y="363" fill="#ddd">BRRE</text><text x="670" y="395">E-Box</text><text x="726" y="395" fill="#ddd">BRRE</text></g>
</g>
<g stroke="#e0101e" stroke-width="1.2" fill="none">
<path d="M557,358V348H570M572,343V353"/><path d="M557,388V378H570M572,373V383"/>
<path d="M758,358V349H772" stroke-dasharray="1.5,1" stroke-width="0.8"/>
<path d="M758,384V374H770" marker-end="url(#ahr)"/>
</g>
<text x="763" y="351" font-size="5" fill="#e0101e">×</text>
<g font-size="7" font-style="italic" fill="#222">
<text x="575" y="352">D2</text><text x="575" y="381">OFP1</text><text x="776" y="352">D2</text><text x="776" y="379">OFP1</text>
</g>
<g fill="#27a0dc">
<polygon points="506,418 516,418 516,428 524,425 511,440 498,425 506,428"/>
<polygon points="506,452 516,452 516,463 524,460 511,475 498,460 506,463"/>
<polygon points="720,418 730,418 730,428 738,425 725,440 712,425 720,428"/>
<polygon points="720,450 730,450 730,461 738,458 725,473 712,458 720,461"/>
</g>
<text x="515" y="447" font-size="6" fill="#333" text-anchor="middle">small grain (similar to <tspan font-style="italic">d2</tspan> mutant)</text>
<text x="728" y="445" font-size="6" fill="#333" text-anchor="middle">large grain</text>
<rect x="490" y="477" width="39" height="76" fill="#4e4e4e"/>
<rect x="706" y="477" width="38" height="76" fill="#4e4e4e"/>
<ellipse cx="509" cy="514" rx="12" ry="33" fill="url(#sem)" transform="rotate(12 509 514)"/>
<ellipse cx="725" cy="514" rx="15" ry="34" fill="url(#sem)" transform="rotate(12 725 514)"/>
<line x1="525" y1="543" x2="525" y2="550" stroke="#fff" stroke-width="0.8"/>
<line x1="740" y1="543" x2="740" y2="550" stroke="#fff" stroke-width="0.8"/>
<text x="433" y="544" font-size="6" fill="#333">Nipponbare</text>
<text x="640" y="544" font-size="6" fill="#333">Z499</text>
</g>

<text x="635" y="592" font-size="16" font-weight="bold" text-anchor="middle" fill="#111">图2 qRBG1/OsBZR5调控水稻籽粒大小发育的模型</text>
</svg>
<script>
(function(){
var C=['#4472C4','#ED7D31','#A5A5A5','#FFC000','#5B9BD5','#70AD47','#264478','#9E480E','#636363'];
function pie(cx,cy,r,v){var s=v.reduce(function(a,b){return a+b},0),a=-Math.PI/2,o='';
v.forEach(function(x,i){if(!x)return;var b=a+x/s*2*Math.PI,l=(b-a)>Math.PI?1:0;
o+='<path d="M'+cx+','+cy+'L'+(cx+r*Math.cos(a)).toFixed(2)+','+(cy+r*Math.sin(a)).toFixed(2)+'A'+r+','+r+' 0 '+l+' 1 '+(cx+r*Math.cos(b)).toFixed(2)+','+(cy+r*Math.sin(b)).toFixed(2)+'Z" fill="'+C[i]+'" stroke="#fff" stroke-width="0.4"/>';a=b;});return o;}
var p='';
p+=pie(68.5,411.5,33.5,[31,50,11,2,23,9,27,0,0]);
p+=pie(139.5,411.5,33.5,[2,2,7,2,15,4,6,3,13]);
p+=pie(211,411.5,33,[181,62,1,0,9,8,0,41,437]);
p+=pie(281.5,411.5,33.5,[5,11,327,50,623,273,20,2,10]);
p+=pie(353,411.5,33,[5,0,1,0,1,0,11,10,31]);
document.getElementById('pies').innerHTML=p;

function vio(cx,yt,yb,ym,w){var d='M'+cx+','+yt+' C'+(cx+w*0.3)+','+(yt+(ym-yt)*0.5)+' '+(cx+w)+','+(ym-(ym-yt)*0.2)+' '+(cx+w)+','+ym+' C'+(cx+w)+','+(ym+(yb-ym)*0.4)+' '+(cx+w*0.3)+','+(yb-(yb-ym)*0.2)+' '+cx+','+yb+' C'+(cx-w*0.3)+','+(yb-(yb-ym)*0.2)+' '+(cx-w)+','+(ym+(yb-ym)*0.4)+' '+(cx-w)+','+ym+' C'+(cx-w)+','+(ym-(ym-yt)*0.2)+' '+(cx-w*0.3)+','+(yt+(ym-yt)*0.5)+' '+cx+','+yt+'Z';
return '<path d="'+d+'" fill="#fff" stroke="#111" stroke-width="1.1"/><line x1="'+(cx-w*0.7)+'" y1="'+ym+'" x2="'+(cx+w*0.7)+'" y2="'+ym+'" stroke="#111" stroke-width="0.5" stroke-dasharray="1,0.8"/>';}
var v='';
var x1=[42.7,53.3,63.3,73.3,83.3,94,104,114,124],d1=[[6.2,12.8,8],[6,11,8.5],[5.8,11.2,8.7],[6.5,11,9],[6,11.5,8.7],[5.8,11.5,8.8],[5.8,11,8.5],[6.3,10.8,8.5],[4.5,12.5,8.8]];
var x2=[164,174,184,195,205.7,216.7,226.7,236.7,246.7],d2=[[2.6,3.8,3.3],[2.4,4,3.1],[2,3.9,3],[2.5,3.6,2.9],[1.6,4.1,3],[1.6,3.8,3],[2.3,3.6,3],[2.2,3.9,3.3],[1.7,4.4,3.3]];
var x3=[292,303,313,324,334,344,354,365,375],d3=[[19,36,25],[13,38,25],[13,40,25],[14,35,24],[13,38,24],[15,37,25],[13,33,23],[16,36,25],[12,43,26]];
for(var i=0;i<9;i++){var a=d1[i];v+=vio(x1[i],532-a[1]*4.733,532-a[0]*4.733,532-a[2]*4.733,4);
a=d2[i];v+=vio(x2[i],532-a[1]*14.2,532-a[0]*14.2,532-a[2]*14.2,4);
a=d3[i];v+=vio(x3[i],532-a[1]*1.42,532-a[0]*1.42,532-a[2]*1.42,4);}
document.getElementById('vio').innerHTML=v;

var g='';
for(var i=0;i<10;i++){g+='<ellipse cx="'+(444+i*24.5)+'" cy="22" rx="11.5" ry="5.5" fill="url(#gr)"/>';}
for(var i=0;i<11;i++){g+='<ellipse cx="'+(444+i*23.9)+'" cy="62" rx="11.5" ry="5.5" fill="url(#gr)"/>';}
for(var i=0;i<10;i++){g+='<ellipse cx="'+(707+i*11.1)+'" cy="20" rx="5" ry="12" fill="url(#gr)"/>';}
for(var i=0;i<10;i++){g+='<ellipse cx="'+(709+i*11.3)+'" cy="60" rx="5.5" ry="12.5" fill="url(#gr)"/>';}
document.getElementById('grains').innerHTML=g;

function helix(x0,x1,y,amp,per){var a='',b='';for(var x=x0;x<=x1;x+=1){var t=(x-x0)/per*2*Math.PI;a+=(x==x0?'M':'L')+x+','+(y+amp*Math.sin(t)).toFixed(1);b+=(x==x0?'M':'L')+x+','+(y-amp*Math.sin(t)).toFixed(1);}
return '<path d="'+a+'" fill="none" stroke="#ee7d3a" stroke-width="0.9"/><path d="'+b+'" fill="none" stroke="#4b86d4" stroke-width="0.9"/>';}
document.getElementById('hx').innerHTML=helix(448,595,361,4,16)+helix(448,595,390,4,16)+helix(648,795,360,4,16)+helix(648,795,391,4,16);
})();
</script>
</body></html>
